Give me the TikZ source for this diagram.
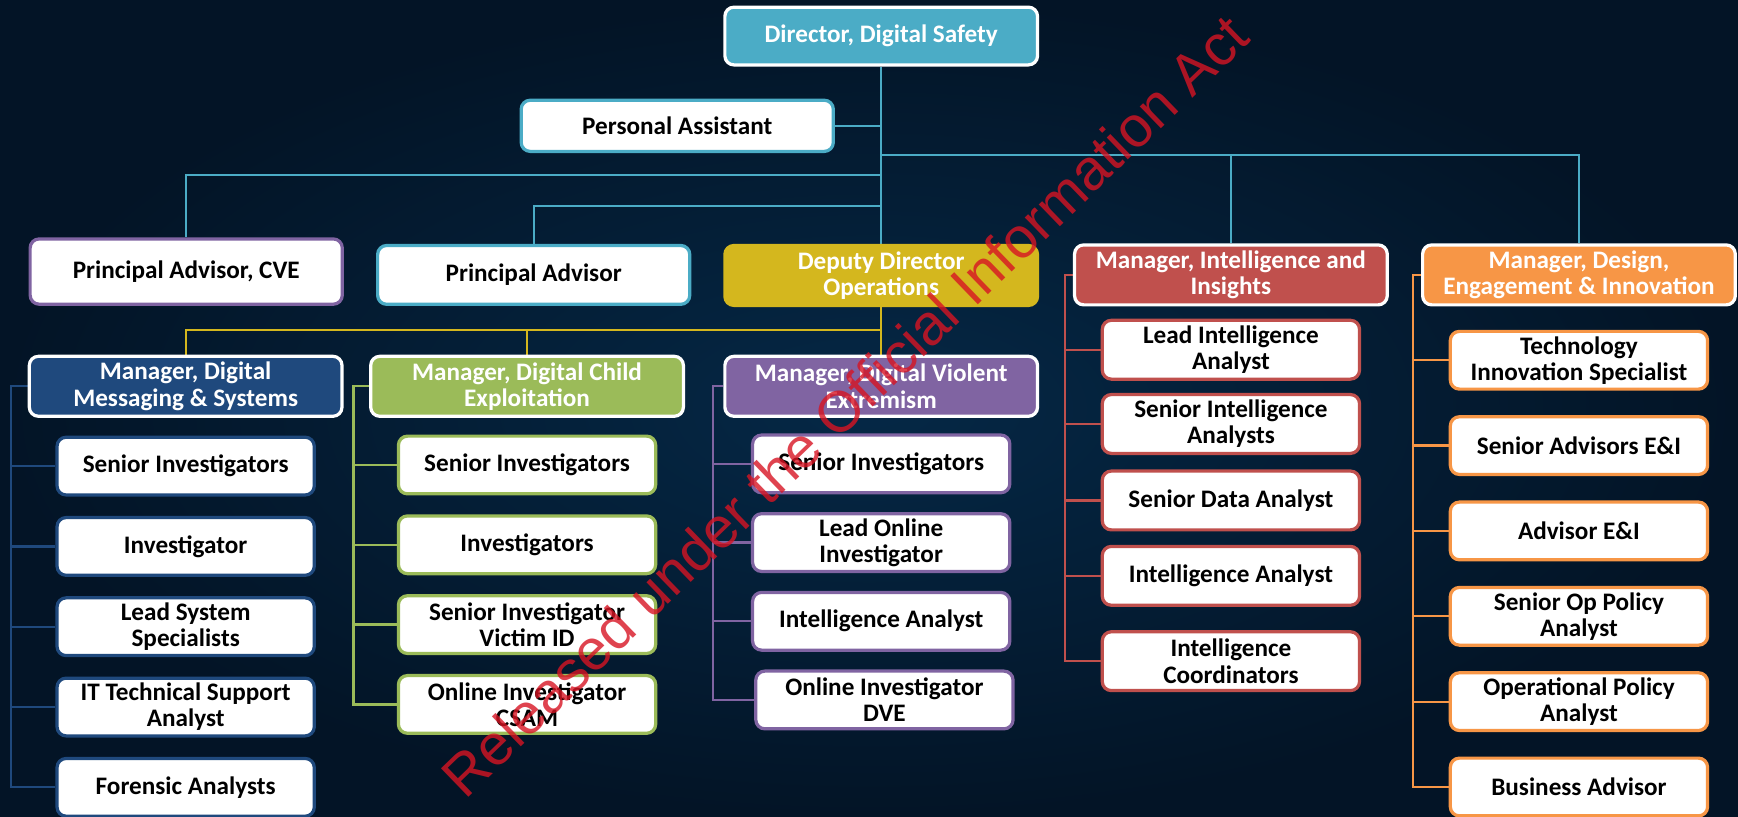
\documentclass[tikz,border=0pt]{standalone}
\usepackage{fontspec}
\setmainfont{Carlito}
\newfontfamily\stampfont{Liberation Sans}
\usetikzlibrary{positioning}

\definecolor{dsteal}{RGB}{75,172,198}
\definecolor{dsgold}{RGB}{212,183,30}
\definecolor{dsnavy}{RGB}{31,73,125}
\definecolor{dsgreen}{RGB}{155,187,89}
\definecolor{dspurple}{RGB}{128,100,162}
\definecolor{dsred}{RGB}{192,80,77}
\definecolor{dsorange}{RGB}{247,150,70}
\definecolor{bginner}{RGB}{5,40,70}
\definecolor{bgouter}{RGB}{3,20,38}
\definecolor{stampred}{RGB}{215,20,35}

\pgfdeclarelayer{backdrop}
\pgfdeclarelayer{lines}
\pgfsetlayers{backdrop,lines,main}

\tikzset{
  box/.style={rectangle, rounded corners=4.5pt, line width=1.6pt, align=center,
    font=\fontsize{12.5}{13}\selectfont\bfseries, inner sep=0.8pt, text=black},
  headbox/.style={box, draw=white, fill=#1, text=white, minimum width=155.15pt, minimum height=29.75pt},
  topbox/.style={box, draw=#1, fill=white, minimum width=154.9pt, minimum height=29.2pt},
  role/.style={box, draw=#1, fill=white, minimum width=127.65pt, minimum height=28.65pt},
  link/.style={draw=#1, line width=1.1pt},
  watermark/.style={font=\stampfont\fontsize{28.5}{30}\selectfont, text=stampred, text opacity=0.8},
}

\begin{document}
\begin{tikzpicture}[x=0.55pt, y=-0.55pt]
        % BACKGROUND
        % -----------------
        \begin{pgfonlayer}{backdrop}
        \shade[inner color=bginner, outer color=bgouter] (0,0) rectangle (1568,737);
        \end{pgfonlayer}
        \useasboundingbox (0,0) rectangle (1568,737);

        % NODES
        % -----------------
        \node[headbox=dsteal, minimum height=28.65pt] (dir) at (795,32.5) {Director, Digital Safety};
        \node[topbox=dsteal, minimum height=25.4pt] (pa) at (611,113.5) {Personal Assistant};

        \node[topbox=dspurple, minimum height=32.4pt] (pacve) at (168,245) {Principal Advisor, CVE};
        \node[topbox=dsteal] (padv) at (481.5,248) {Principal Advisor};
        \node[headbox=dsgold, draw=dsgold] (ddo) at (795,248.5) {Deputy Director\\Operations};
        \node[headbox=dsred] (mii) at (1110.5,248) {Manager, Intelligence and\\Insights};
        \node[headbox=dsorange] (mdei) at (1424.5,248) {Manager, Design,\\Engagement \& Innovation};

        \node[headbox=dsnavy] (mdms) at (167.5,348.5) {Manager, Digital\\Messaging \& Systems};
        \node[headbox=dsgreen] (mdce) at (475.5,348.5) {Manager, Digital Child\\Exploitation};
        \node[headbox=dspurple] (mdve) at (795,348.5) {Manager, Digital Violent\\Extremism};

        % Messaging & Systems team
        \node[role=dsnavy, below=8.8pt of mdms] (dms1) {Senior Investigators};
        \node[role=dsnavy, below=9.6pt of dms1] (dms2) {Investigator};
        \node[role=dsnavy, below=9.6pt of dms2] (dms3) {Lead System\\Specialists};
        \node[role=dsnavy, below=9.6pt of dms3] (dms4) {IT Technical Support\\Analyst};
        \node[role=dsnavy, below=9.6pt of dms4] (dms5) {Forensic Analysts};

        % Child Exploitation team
        \node[role=dsgreen, below=8.25pt of mdce] (dce1) {Senior Investigators};
        \node[role=dsgreen, below=9.35pt of dce1] (dce2) {Investigators};
        \node[role=dsgreen, below=9.35pt of dce2] (dce3) {Senior Investigator\\Victim ID};
        \node[role=dsgreen, below=9.35pt of dce3] (dce4) {Online Investigator\\CSAM};

        % Violent Extremism team
        \node[role=dspurple, below=7.7pt of mdve] (dve1) {Senior Investigators};
        \node[role=dspurple, below=8.8pt of dve1] (dve2) {Lead Online\\Investigator};
        \node[role=dspurple, below=8.8pt of dve2] (dve3) {Intelligence Analyst};
        \node[role=dspurple, below=8.8pt of dve3, xshift=1.6pt] (dve4) {Online Investigator\\DVE};

        % Intelligence and Insights team
        \node[role=dsred, minimum height=29.2pt, below=6.05pt of mii] (ii1) {Lead Intelligence\\Analyst};
        \node[role=dsred, minimum height=29.2pt, below=6.05pt of ii1] (ii2) {Senior Intelligence\\Analysts};
        \node[role=dsred, minimum height=29.2pt, below=7.15pt of ii2] (ii3) {Senior Data Analyst};
        \node[role=dsred, minimum height=29.2pt, below=6.6pt of ii3] (ii4) {Intelligence Analyst};
        \node[role=dsred, minimum height=29.2pt, below=11.55pt of ii4] (ii5) {Intelligence\\Coordinators};

        % Design, Engagement & Innovation team
        \node[role=dsorange, below=11.55pt of mdei] (dei1) {Technology\\Innovation Specialist};
        \node[role=dsorange, below=12.1pt of dei1] (dei2) {Senior Advisors E\&I};
        \node[role=dsorange, below=12.1pt of dei2] (dei3) {Advisor E\&I};
        \node[role=dsorange, below=12.1pt of dei3] (dei4) {Senior Op Policy\\Analyst};
        \node[role=dsorange, below=12.1pt of dei4] (dei5) {Operational Policy\\Analyst};
        \node[role=dsorange, below=12.1pt of dei5] (dei6) {Business Advisor};

        % EDGES
        % -----------------
        \coordinate (tbus1) at (795,140);
        \coordinate (tbus2) at (795,158);
        \coordinate (tbus3) at (795,186);
        \coordinate (opsbus) at (795,298);

        \begin{pgfonlayer}{lines}
        \begin{scope}[link=dsteal]
        \draw (dir.south) -- (ddo.north);
        \draw (pa.east) -- (pa.east -| dir.south);
        \draw (tbus1) -| (mii.north);
        \draw (tbus1) -| (mdei.north);
        \draw (tbus2) -| (pacve.north);
        \draw (tbus3) -| (padv.north);
        \end{scope}

        \begin{scope}[link=dsgold]
        \draw (ddo.south) -- (mdve.north);
        \draw (opsbus) -| (mdms.north);
        \draw (opsbus) -| (mdce.north);
        \end{scope}

        % team brackets
        \coordinate (dmsbus) at ([xshift=-8.25pt]mdms.west);
        \coordinate (dcebus) at ([xshift=-7.7pt]mdce.west);
        \coordinate (dvebus) at ([xshift=-5pt]mdve.west);
        \coordinate (iibus) at ([xshift=-3.85pt]mii.west);
        \coordinate (deibus) at ([xshift=-3.85pt]mdei.west);

        \draw[link=dsnavy] (mdms.west) -- (dmsbus) |- (dms5.west)
          (dmsbus |- dms1.west) -- (dms1.west) (dmsbus |- dms2.west) -- (dms2.west)
          (dmsbus |- dms3.west) -- (dms3.west) (dmsbus |- dms4.west) -- (dms4.west);
        \draw[link=dsgreen] (mdce.west) -- (dcebus) |- (dce4.west)
          (dcebus |- dce1.west) -- (dce1.west) (dcebus |- dce2.west) -- (dce2.west)
          (dcebus |- dce3.west) -- (dce3.west);
        \draw[link=dspurple] (mdve.west) -- (dvebus) |- (dve4.west)
          (dvebus |- dve1.west) -- (dve1.west) (dvebus |- dve2.west) -- (dve2.west)
          (dvebus |- dve3.west) -- (dve3.west);
        \draw[link=dsred] (mii.west) -- (iibus) |- (ii5.west)
          (iibus |- ii1.west) -- (ii1.west) (iibus |- ii2.west) -- (ii2.west)
          (iibus |- ii3.west) -- (ii3.west) (iibus |- ii4.west) -- (ii4.west);
        \draw[link=dsorange] (mdei.west) -- (deibus) |- (dei6.west)
          (deibus |- dei1.west) -- (dei1.west) (deibus |- dei2.west) -- (dei2.west)
          (deibus |- dei3.west) -- (dei3.west) (deibus |- dei4.west) -- (dei4.west)
          (deibus |- dei5.west) -- (dei5.west);
        \end{pgfonlayer}

        % STAMP
        % -----------------
        \node[watermark, rotate=44] (stamp) at (762,366) {Released under the Official Information Act};
\end{tikzpicture}
\end{document}
